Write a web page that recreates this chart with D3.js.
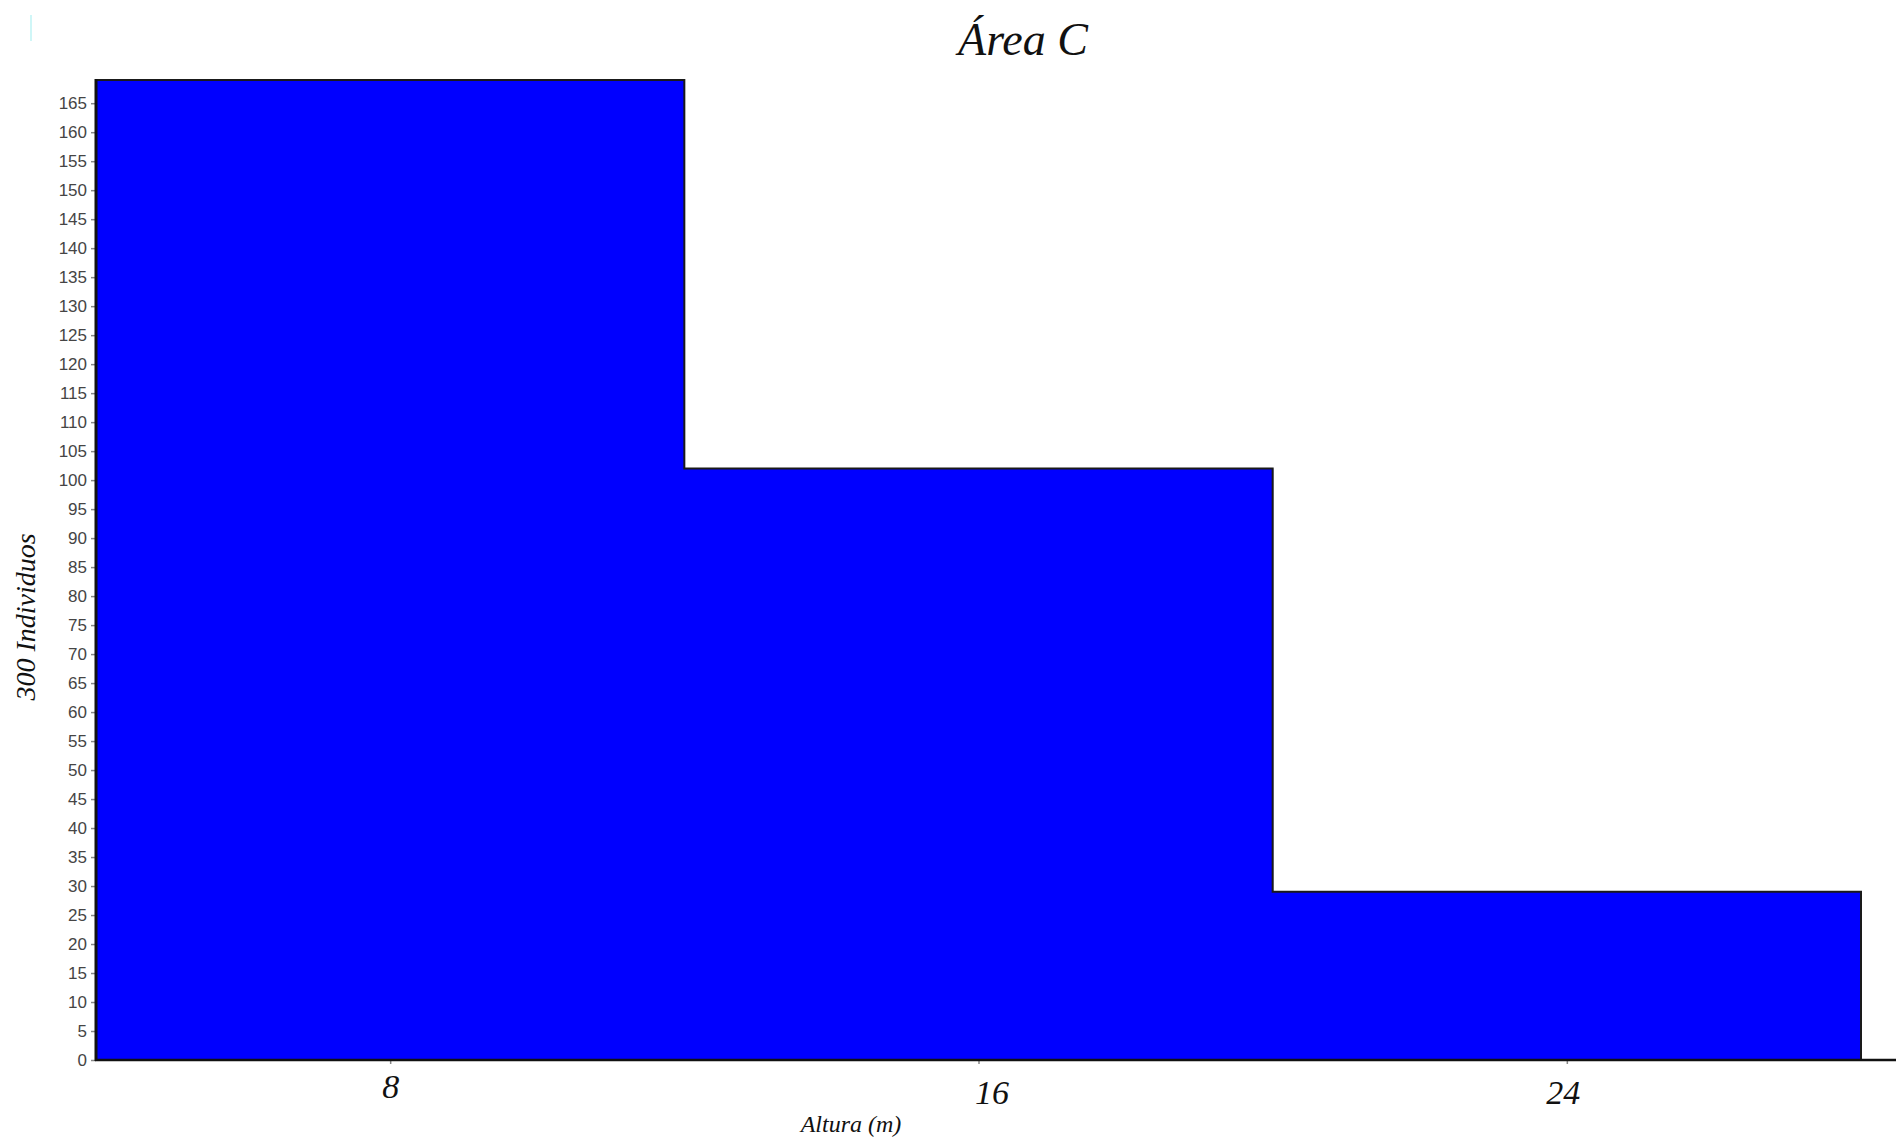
<!DOCTYPE html>
<html>
<head>
<meta charset="utf-8">
<script src="https://cdn.jsdelivr.net/npm/d3@7"></script>
<style>
  html, body { margin: 0; padding: 0; background: #fff; }
  svg { display: block; }
</style>
</head>
<body>
<svg id="chart" width="1896" height="1140"></svg>
<script>
// Data
const binStarts = [4, 12, 20];
const binEnds = [12, 20, 28];
const counts = [169, 102, 29];
const xTickValues = [8, 16, 24];
const yTickValues = d3.range(0, 166, 5);
const titleText = "Área C";
const xLabel = "Altura (m)";
const yLabel = "300 Individuos";

const svg = d3.select("#chart");
const x = d3.scaleLinear().domain([4, 28]).range([96, 1861]);
const y = d3.scaleLinear().domain([0, 169]).range([1060, 80]);

// small artifact mark top-left
svg.append("line").attr("x1", 31).attr("x2", 31).attr("y1", 15).attr("y2", 41)
  .attr("stroke", "#bff3f5").attr("stroke-width", 1.5);

// bars (fill only, slightly overlapping to avoid seams)
svg.append("g").selectAll("rect").data(counts).join("rect")
  .attr("x", (d, i) => x(binStarts[i]) - 0.5)
  .attr("y", d => y(d))
  .attr("width", (d, i) => x(binEnds[i]) - x(binStarts[i]) + 1)
  .attr("height", d => y(0) - y(d))
  .attr("fill", "#0000ff");

// step outline of the histogram
const outlinePts = [{x: binStarts[0], y: 0}]
  .concat(counts.map((c, i) => ({x: binStarts[i], y: c})))
  .concat([{x: binEnds[binEnds.length - 1], y: counts[counts.length - 1]}, {x: binEnds[binEnds.length - 1], y: 0}]);
const outline = d3.line().x(d => x(d.x)).y(d => y(d.y)).curve(d3.curveStepAfter);
svg.append("path").attr("d", outline(outlinePts))
  .attr("fill", "none").attr("stroke", "#1a1a1a").attr("stroke-width", 2);

// y axis
const yAxis = d3.axisLeft(y).tickValues(yTickValues).tickSize(5).tickPadding(4);
const gy = svg.append("g").attr("transform", "translate(96,0)").call(yAxis);
gy.select(".domain").remove();
gy.selectAll(".tick line").attr("stroke", "#888").attr("stroke-width", 1.5);
gy.selectAll(".tick text").attr("font-family", "Liberation Sans, Arial, sans-serif")
  .attr("font-size", 17).attr("fill", "#454545");
svg.append("line").attr("x1", 96).attr("x2", 96).attr("y1", y(169) - 1).attr("y2", y(0) + 1)
  .attr("stroke", "#111").attr("stroke-width", 3);

// x axis
const xAxis = d3.axisBottom(x).tickValues(xTickValues).tickSize(4).tickPadding(10).tickFormat(d3.format("d"));
const gx = svg.append("g").attr("transform", "translate(0,1060)").call(xAxis);
gx.select(".domain").remove();
gx.selectAll(".tick line").attr("stroke", "#888").attr("stroke-width", 1.5);
gx.selectAll(".tick text").attr("font-family", "Liberation Serif, Times New Roman, serif")
  .attr("font-style", "italic").attr("font-size", 34).attr("fill", "#111")
  .attr("dy", (d, i) => i === 0 ? "0.71em" : "0.88em")
  .attr("dx", (d, i) => i === 1 ? 13 : (i === 2 ? -4 : 0));
svg.append("line").attr("x1", 95).attr("x2", 1896).attr("y1", 1060).attr("y2", 1060)
  .attr("stroke", "#111").attr("stroke-width", 2.5);

// title
svg.append("text").attr("x", 1023).attr("y", 55).attr("text-anchor", "middle")
  .attr("font-family", "Liberation Serif, Times New Roman, serif").attr("font-style", "italic")
  .attr("font-size", 46).attr("fill", "#111").text(titleText);

// x label
svg.append("text").attr("x", 851).attr("y", 1132).attr("text-anchor", "middle")
  .attr("font-family", "Liberation Serif, Times New Roman, serif").attr("font-style", "italic")
  .attr("font-size", 24).attr("fill", "#111").text(xLabel);

// y label
svg.append("text").attr("transform", "translate(35,617) rotate(-90)").attr("text-anchor", "middle")
  .attr("font-family", "Liberation Serif, Times New Roman, serif").attr("font-style", "italic")
  .attr("font-size", 28).attr("fill", "#111").text(yLabel);
</script>
</body>
</html>
